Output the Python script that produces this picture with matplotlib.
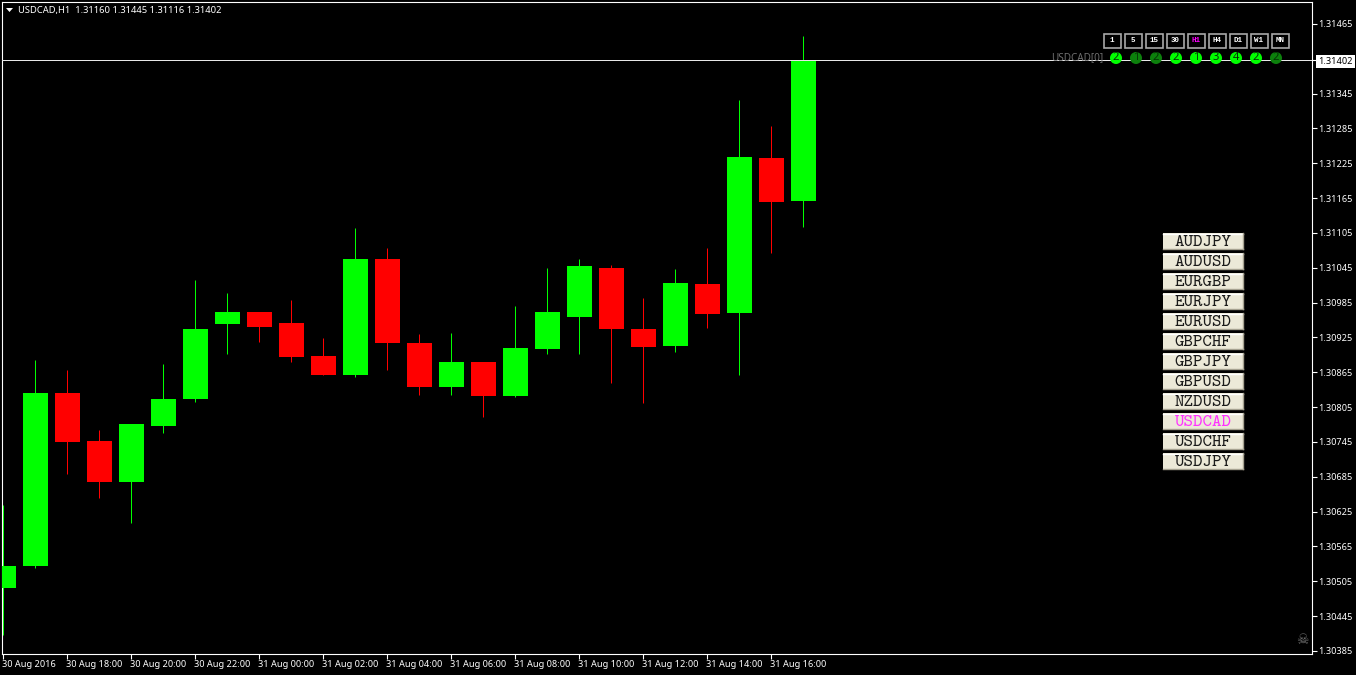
import matplotlib
matplotlib.use("Agg")
import matplotlib.pyplot as plt
from matplotlib.patches import Rectangle, Circle, Polygon
from matplotlib.transforms import ScaledTranslation

# ---- data -------------------------------------------------------------
opens  = [1.30494, 1.30532, 1.30830, 1.30747, 1.30676, 1.30773, 1.30819, 1.30948, 1.30969, 1.30950,
          1.30893, 1.30861, 1.31060, 1.30916, 1.30840, 1.30883, 1.30824, 1.30905, 1.30960, 1.31045,
          1.30940, 1.30910, 1.31017, 1.30967, 1.31234, 1.31160]
highs  = [1.30637, 1.30886, 1.30869, 1.30766, 1.30776, 1.30880, 1.31024, 1.31002, 1.30969, 1.30990,
          1.30924, 1.31114, 1.31079, 1.30930, 1.30933, 1.30883, 1.30979, 1.31045, 1.31060, 1.31050,
          1.30993, 1.31043, 1.31079, 1.31334, 1.31289, 1.31445]
lows   = [1.30413, 1.30527, 1.30690, 1.30649, 1.30606, 1.30761, 1.30814, 1.30897, 1.30917, 1.30883,
          1.30861, 1.30857, 1.30868, 1.30826, 1.30826, 1.30788, 1.30823, 1.30897, 1.30897, 1.30847,
          1.30812, 1.30900, 1.30942, 1.30861, 1.31071, 1.31116]
closes = [1.30532, 1.30830, 1.30745, 1.30676, 1.30776, 1.30819, 1.30940, 1.30969, 1.30943, 1.30892,
          1.30861, 1.31060, 1.30916, 1.30840, 1.30883, 1.30824, 1.30907, 1.30969, 1.31048, 1.30940,
          1.30909, 1.31019, 1.30966, 1.31236, 1.31158, 1.31402]

price_ticks = [1.31465, 1.31345, 1.31285, 1.31225, 1.31165, 1.31105, 1.31045, 1.30985, 1.30925,
               1.30865, 1.30805, 1.30745, 1.30685, 1.30625, 1.30565, 1.30505, 1.30445, 1.30385]
last_price = 1.31402
time_tick_idx = [0, 2, 4, 6, 8, 10, 12, 14, 16, 18, 20, 22, 24]
time_labels = ["30 Aug 2016", "30 Aug 18:00", "30 Aug 20:00", "30 Aug 22:00", "31 Aug 00:00",
               "31 Aug 02:00", "31 Aug 04:00", "31 Aug 06:00", "31 Aug 08:00", "31 Aug 10:00",
               "31 Aug 12:00", "31 Aug 14:00", "31 Aug 16:00"]
title = "USDCAD,H1  1.31160 1.31445 1.31116 1.31402"
symbols = ["AUDJPY", "AUDUSD", "EURGBP", "EURJPY", "EURUSD", "GBPCHF",
           "GBPJPY", "GBPUSD", "NZDUSD", "USDCAD", "USDCHF", "USDJPY"]
active_symbol = "USDCAD"
timeframes = ["1", "5", "15", "30", "H1", "H4", "D1", "W1", "MN"]
active_tf = "H1"
signal_digits = ["2", "1", "2", "2", "1", "3", "4", "2", "2"]
signal_bright = [True, False, False, True, True, True, True, True, False]

# ---- style ------------------------------------------------------------
UI = "Noto Sans"
W, H = 1356, 675
fig = plt.figure(figsize=(W / 100, H / 100), dpi=100, facecolor="black")
L, R, T, B = 2.0, 1312.0, 2.0, 654.0
ax = fig.add_axes([L / W, 1 - B / H, (R - L) / W, (B - T) / H], facecolor="black")

step = 32.0
x0 = 3.0
ax.set_xlim((L - x0) / step, (R - x0) / step)
px_per_price = 58055.0
y_anchor = 23.9
ax.set_ylim(1.31465 - (B - y_anchor) / px_per_price, 1.31465 + (y_anchor - T) / px_per_price)

for i, (o, h, l, c) in enumerate(zip(opens, highs, lows, closes)):
    col = "#00ff00" if c >= o else "#ff0000"
    ax.vlines(i, l, h, color=col, lw=0.72, zorder=2)
    ax.bar(i, abs(c - o), bottom=min(o, c), width=25 / step, color=col, lw=0, zorder=3)

ax.axhline(last_price, color="#e8e8e8", lw=0.72, zorder=4)

for s in ax.spines.values():
    s.set_color("white")
    s.set_linewidth(0.8)
ax.yaxis.tick_right()
ax.set_yticks(price_ticks + [last_price])
ax.set_yticklabels([f"{p:.5f}" for p in price_ticks] + [f"{last_price:.5f}"])
ax.set_xticks(time_tick_idx)
ax.set_xticklabels(time_labels, ha="left")
ax.tick_params(axis="y", colors="white", length=3.5, width=0.8, pad=1.2, labelsize=6.6, labelfontfamily=UI)
ax.tick_params(axis="x", colors="white", length=3.5, width=0.8, pad=0.8, labelsize=6.6, labelfontfamily=UI)
shift = ScaledTranslation(-0.75 / 72, 0, fig.dpi_scale_trans)
for lab in ax.get_xticklabels():
    lab.set_transform(lab.get_transform() + shift)
labs = ax.get_yticklabels()
labs[-1].set_color("black")
labs[-1].set_bbox(dict(facecolor="white", edgecolor="none", pad=1.6))

# ---- overlay in pixel coordinates for the terminal widgets ------------
ov = fig.add_axes([0, 0, 1, 1], facecolor="none")
ov.set_xlim(0, W)
ov.set_ylim(H, 0)
ov.axis("off")

ov.add_patch(Polygon([[6, 8], [13, 8], [9.5, 12]], closed=True, color="white", lw=0))
ov.text(18, 10.5, title, color="white", fontsize=6.75, family=UI, va="center", ha="left")

# timeframe buttons
for k, tf in enumerate(timeframes):
    cx = 1112 + 21 * k
    ov.add_patch(Rectangle((cx - 8.5, 33.5), 17, 14, facecolor="black", edgecolor="#a8a8a8", lw=1.2))
    ov.text(cx, 40.5, tf, color="#ff00ff" if tf == active_tf else "white", fontsize=5.4,
            family="Liberation Mono", weight="bold", ha="center", va="center")

# signal row
ov.text(1103, 57.5, "USDCAD[0]", color="#6e6e6e", fontsize=7.2, family=UI, ha="right", va="center")
for k, (d, b) in enumerate(zip(signal_digits, signal_bright)):
    cx = 1116 + 20 * k
    ov.add_patch(Circle((cx, 58), 6.0, facecolor="#00ff00" if b else "#0c800c", edgecolor="none", zorder=5))
    ov.text(cx, 58, d, color="#053005", fontsize=8, family=UI, ha="center", va="center", zorder=6)

# symbol buttons
for k, sym in enumerate(symbols):
    cy = 241 + 20 * k
    ov.add_patch(Rectangle((1163, cy - 8), 80, 16, facecolor="#ece9d8", edgecolor="none", zorder=5))
    ov.plot([1163, 1243], [cy - 7.5, cy - 7.5], color="white", lw=1, zorder=6)
    ov.plot([1163, 1243], [cy + 7.5, cy + 7.5], color="#a5a190", lw=1, zorder=6)
    ov.plot([1242.5, 1242.5], [cy - 8, cy + 8], color="#a5a190", lw=1, zorder=6)
    ov.text(1203, cy + 1.0, sym, color="#ff33ff" if sym == active_symbol else "#1a1a1a", fontsize=13,
            family="cmtt10", ha="center", va="center", zorder=7)

# skull marker
ov.text(1302, 640, "\u2620", color="#6f6f6f", fontsize=10, family="DejaVu Sans", ha="center", va="center")

fig.savefig("out.png", dpi=100, facecolor="black")
